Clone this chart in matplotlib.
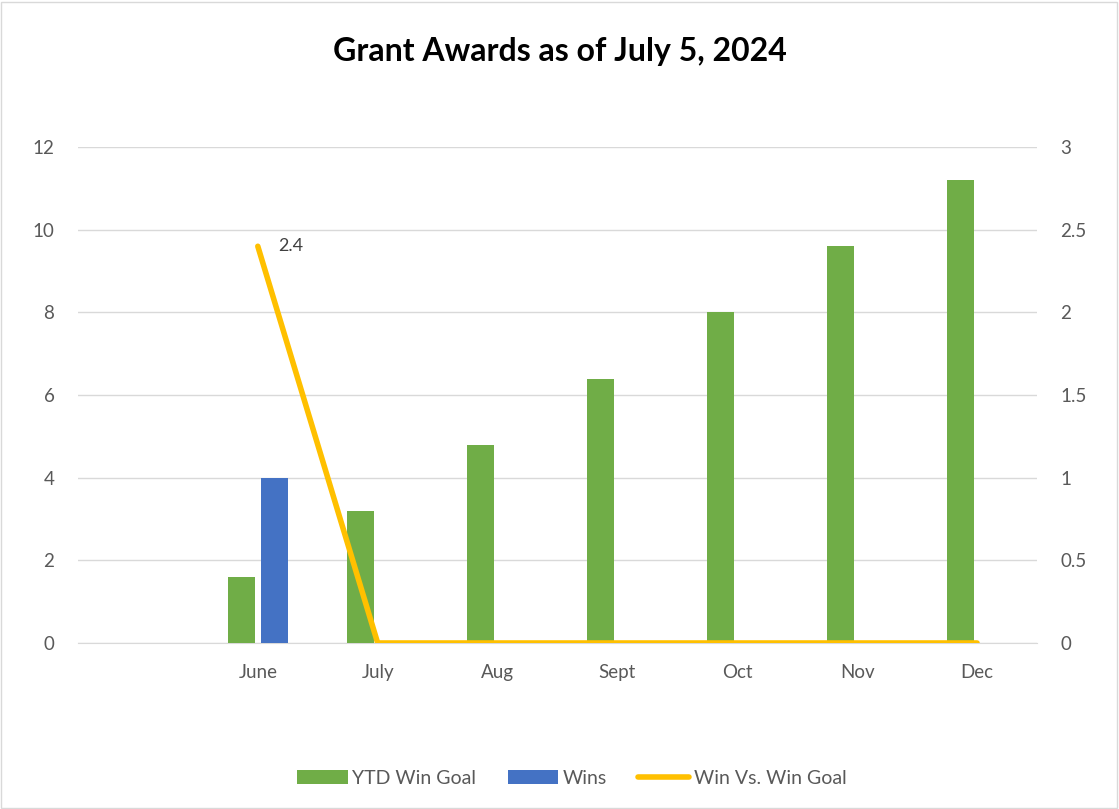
import matplotlib.pyplot as plt
import numpy as np
from matplotlib.patches import Rectangle

plt.rcParams['font.family'] = ['Lato', 'DejaVu Sans']

months = ['', 'June', 'July', 'Aug', 'Sept', 'Oct', 'Nov', 'Dec']
ytd_goal = [np.nan, 1.6, 3.2, 4.8, 6.4, 8.0, 9.6, 11.2]
wins = [np.nan, 4, np.nan, np.nan, np.nan, np.nan, np.nan, np.nan]
win_vs_goal = [np.nan, 2.4, 0, 0, 0, 0, 0, 0]

green = '#70AD47'
blue = '#4472C4'
gold = '#FFC000'
txt = '#595959'

fig = plt.figure(figsize=(11.19, 8.09), dpi=100)
ax = fig.add_axes([0.0697, 0.2052, 0.857, 0.613])
ax2 = ax.twinx()

x = np.arange(len(months))
w = 0.225
ax.bar(x - 0.14, ytd_goal, w, color=green, label='YTD Win Goal', zorder=3)
ax.bar(x + 0.14, wins, w, color=blue, label='Wins', zorder=3)
ax2.plot(x, win_vs_goal, color=gold, lw=4, solid_capstyle='round',
         label='Win Vs. Win Goal', zorder=4)
ax2.annotate('2.4', (x[1], win_vs_goal[1]), xytext=(15, 0),
             textcoords='offset points', fontsize=13, color='#404040',
             va='center')

ax.set_xlim(-0.5, len(months) - 0.5)
ax.set_ylim(0, 12)
ax2.set_ylim(0, 3)
ax.set_yticks(range(0, 13, 2))
ax2.set_yticks([0, 0.5, 1, 1.5, 2, 2.5, 3])
ax2.set_yticklabels(['0', '0.5', '1', '1.5', '2', '2.5', '3'])
ax.set_xticks(x)
ax.set_xticklabels(months)
ax.grid(axis='y', color='#D9D9D9', lw=1, zorder=0)
for a in (ax, ax2):
    for s in a.spines.values():
        s.set_visible(False)
    a.tick_params(length=0, labelsize=13.5, colors=txt)
ax.tick_params(axis='x', pad=15)
ax.tick_params(axis='y', pad=17)
ax2.tick_params(axis='y', pad=17)
ax.spines['bottom'].set_visible(True)
ax.spines['bottom'].set_color('#D9D9D9')
ax.set_zorder(1)
ax2.set_zorder(2)
ax.patch.set_visible(False)

fig.text(0.5, 0.936, 'Grant Awards as of July 5, 2024', ha='center', va='center',
         fontsize=23, fontweight='bold', color='black')

h1, l1 = ax.get_legend_handles_labels()
h2, l2 = ax2.get_legend_handles_labels()
fig.legend(h1 + h2, l1 + l2, loc='center', bbox_to_anchor=(0.511, 0.038), ncol=3,
           frameon=False, fontsize=14, labelcolor=txt, handlelength=2.6,
           handletextpad=0.25, columnspacing=1.6)

fig.patches.append(Rectangle((0.001, 0.001), 0.997, 0.997, transform=fig.transFigure,
                             fill=False, edgecolor='#D9D9D9', lw=1))

fig.savefig('out.png', dpi=100)
